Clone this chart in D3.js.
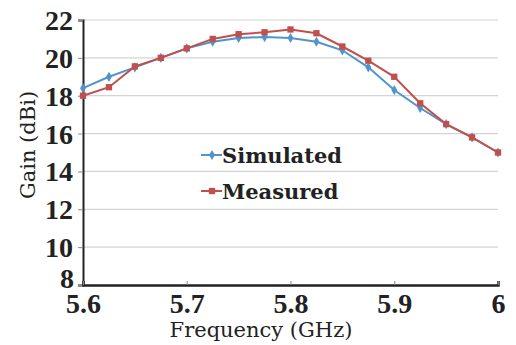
<!DOCTYPE html>
<html>
<head>
<meta charset="utf-8">
<script src="https://cdn.jsdelivr.net/npm/d3@7"></script>
<style>
  html, body { margin: 0; padding: 0; background: #fff; }
  svg text { font-family: "DejaVu Serif", serif; fill: #222; }
</style>
</head>
<body>
<svg id="chart" width="516" height="345"></svg>
<script>
// Frequency sweep (GHz) and gain (dBi) for both series
const frequency = [5.6, 5.625, 5.65, 5.675, 5.7, 5.725, 5.75, 5.775, 5.8, 5.825, 5.85, 5.875, 5.9, 5.925, 5.95, 5.975, 6.0];
const simulated = [18.4, 19.0, 19.5, 20.0, 20.5, 20.85, 21.05, 21.1, 21.05, 20.85, 20.4, 19.5, 18.3, 17.35, 16.5, 15.8, 15.0];
const measured  = [18.0, 18.45, 19.55, 20.0, 20.5, 21.0, 21.25, 21.35, 21.5, 21.3, 20.6, 19.85, 19.0, 17.6, 16.5, 15.8, 15.0];
const xTicks = [5.6, 5.7, 5.8, 5.9, 6.0];
const yTicks = [8, 10, 12, 14, 16, 18, 20, 22];
const seriesNames = ["Simulated", "Measured"];

const svg = d3.select("#chart");
const margin = { left: 83, right: 18, top: 20, bottom: 60 };
const W = 516, H = 345;
const tickFont = "'Liberation Serif', 'Times New Roman', serif";

const x = d3.scaleLinear().domain([5.6, 6.0]).range([margin.left, W - margin.right]);
const y = d3.scaleLinear().domain([8, 22]).range([H - margin.bottom, margin.top]);

// horizontal gridlines
svg.append("g")
  .selectAll("line")
  .data(yTicks.filter(v => v > 8))
  .join("line")
  .attr("x1", x(5.6)).attr("x2", x(6.0))
  .attr("y1", d => y(d)).attr("y2", d => y(d))
  .attr("stroke", "#d4d4d4").attr("stroke-width", 1.2);

// y axis
const yAxis = svg.append("g")
  .attr("transform", `translate(${x(5.6)},0)`)
  .call(d3.axisLeft(y).tickValues(yTicks).tickSize(5).tickFormat(d3.format("d")));
yAxis.select(".domain").attr("stroke", "#222").attr("stroke-width", 2);
yAxis.selectAll(".tick line").attr("stroke", "#888");
yAxis.selectAll(".tick text")
  .attr("font-size", 28).attr("font-weight", "bold").attr("x", -10).attr("dy", "0.34em")
  .style("font-family", tickFont).attr("fill", "#333");
// the bottom label sits a little higher and left, clear of the first x label
yAxis.selectAll(".tick text").filter(d => d === 8).attr("x", -9).attr("dy", "0.08em");

// x axis
const xAxis = svg.append("g")
  .attr("transform", `translate(0,${y(8)})`)
  .call(d3.axisBottom(x).tickValues(xTicks).tickSize(-4).tickFormat(d => d3.format("")(+d.toFixed(1))));
xAxis.select(".domain").attr("stroke", "#222").attr("stroke-width", 2.5);
xAxis.selectAll(".tick line").attr("stroke", "#888");
xAxis.selectAll(".tick text")
  .attr("font-size", 28).attr("font-weight", "bold").attr("y", 10).attr("dy", "0.66em")
  .style("font-family", tickFont).attr("fill", "#333");

// axis titles
svg.append("text")
  .attr("x", 261).attr("y", 337)
  .attr("text-anchor", "middle").attr("font-size", 21)
  .text("Frequency (GHz)");
svg.append("text")
  .attr("transform", `translate(35,145) rotate(-90)`)
  .attr("text-anchor", "middle").attr("font-size", 21)
  .text("Gain (dBi)");

// series
const colors = { Simulated: "#4f94cd", Measured: "#c0504d" };
const symbols = { Simulated: [d3.symbolDiamond, 30], Measured: [d3.symbolSquare, 40] };
const line = d3.line().x((d, i) => x(frequency[i])).y(d => y(d));

function drawSeries(values, name) {
  const g = svg.append("g");
  g.append("path").datum(values)
    .attr("d", line).attr("fill", "none")
    .attr("stroke", colors[name]).attr("stroke-width", 2);
  g.selectAll("path.pt").data(values).join("path")
    .attr("class", "pt")
    .attr("transform", (d, i) => `translate(${x(frequency[i])},${y(d)})`)
    .attr("d", d3.symbol().type(symbols[name][0]).size(symbols[name][1]))
    .attr("fill", colors[name]);
}
drawSeries(simulated, "Simulated");
drawSeries(measured, "Measured");

// legend
const legend = svg.append("g");
seriesNames.forEach((name, i) => {
  const ly = 155 + i * 36;
  legend.append("line")
    .attr("x1", 201).attr("x2", 222).attr("y1", ly).attr("y2", ly)
    .attr("stroke", colors[name]).attr("stroke-width", 2);
  legend.append("path")
    .attr("transform", `translate(212,${ly})`)
    .attr("d", d3.symbol().type(symbols[name][0]).size(symbols[name][1]))
    .attr("fill", colors[name]);
  legend.append("text")
    .attr("x", 222).attr("y", ly).attr("dy", "0.36em")
    .attr("font-size", 21).attr("font-weight", "bold")
    .text(name);
});
</script>
</body>
</html>
